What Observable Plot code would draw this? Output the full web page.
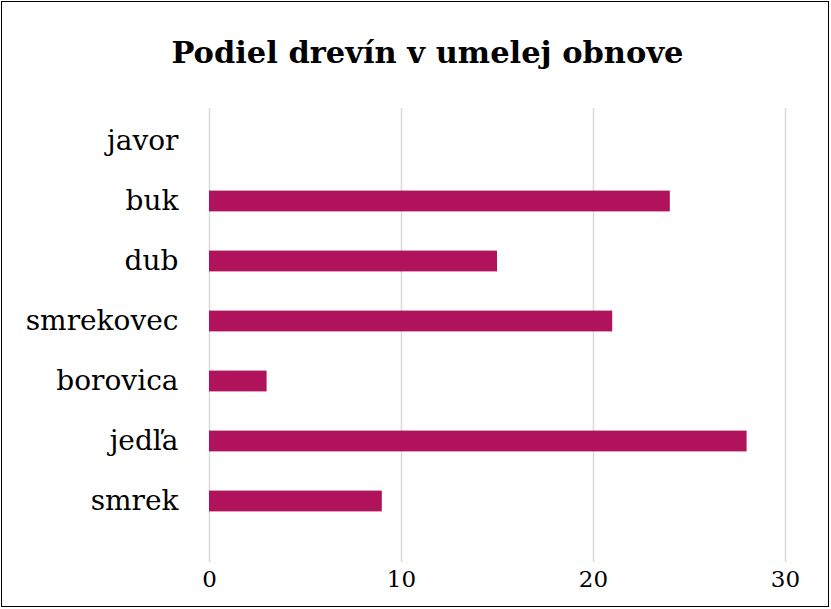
<!DOCTYPE html>
<html>
<head>
<meta charset="utf-8">
<script src="https://cdn.jsdelivr.net/npm/d3@7"></script>
<script src="https://cdn.jsdelivr.net/npm/@observablehq/plot@0.6"></script>
<style>
  html, body { margin: 0; padding: 0; background: #fff; }
  #wrap { position: relative; width: 831px; height: 609px; overflow: hidden; background: #fff; }
  #frame { position: absolute; left: 1px; top: 1px; width: 828px; height: 606px; border: 1.5px solid #000; box-sizing: border-box; pointer-events: none; }
  #title { height: 95px; box-sizing: border-box; padding-top: 36px; padding-left: 24px; text-align: center; font-family: "DejaVu Serif", serif; font-weight: bold; font-size: 30.5px; line-height: 1.1; color: #000; }
  svg { display: block; }
</style>
</head>
<body>
<div id="wrap">
  <div id="title">Podiel drevín v umelej obnove</div>
  <div id="chart"></div>
  <div id="frame"></div>
</div>
<script>
const species = ["javor", "buk", "dub", "smrekovec", "borovica", "jedľa", "smrek"];
const shares = [0, 24, 15, 21, 3, 28, 9];
const xTicks = [0, 10, 20, 30];

const data = species.map((s, i) => ({species: s, value: shares[i]}));

const chart = Plot.plot({
  width: 831,
  height: 514,
  marginLeft: 209,
  marginRight: 46,
  marginTop: 13,
  marginBottom: 47,
  style: {fontFamily: "'DejaVu Serif', serif", color: "#000", background: "#fff"},
  x: {domain: [0, 30], ticks: xTicks, tickSize: 0, tickPadding: 8, label: null},
  y: {domain: species, range: [15, 437], padding: 0, tickSize: 0, tickPadding: 31, label: null},
  marks: [
    Plot.ruleX(xTicks, {stroke: "#d9d9d9", strokeWidth: 1.5}),
    Plot.barX(data, {x: "value", y: "species", fill: "#b0135b", insetTop: 19.6, insetBottom: 19.6}),
    Plot.axisX({ticks: xTicks, tickSize: 0, tickPadding: 8, fontSize: 23, label: null}),
    Plot.axisY({tickSize: 0, tickPadding: 31, fontSize: 28, label: null})
  ]
});
document.getElementById("chart").appendChild(chart);
</script>
</body>
</html>
